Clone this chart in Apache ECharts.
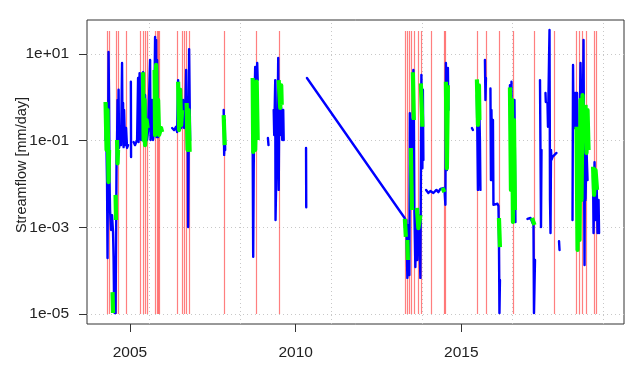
<!DOCTYPE html>
<html><head><meta charset="utf-8">
<script src="https://cdn.jsdelivr.net/npm/echarts@6/dist/echarts.min.js"></script>
<style>html,body{margin:0;padding:0;background:#fff}#c{width:637px;height:372px}</style>
</head><body><div id="c"></div>
<script>
// Streamflow series (decimal years), null = gap
const flowDates = [
2004.263,2004.278,2004.308,2004.323,2004.338,2004.353,2004.369,2004.384,2004.399,2004.429,2004.459,2004.489,2004.505,2004.520,2004.535,2004.550,2004.565,2004.580,2004.595,2004.610,2004.625,2004.640,2004.656,2004.671,2004.701,2004.731,2004.761,2004.776,2004.792,2004.807,2004.822,2004.852,2004.882,2004.912,2004.943,null,
2005.027,2005.033,null,
2005.109,2005.154,2005.215,2005.245,2005.260,2005.290,2005.314,2005.335,2005.366,2005.396,2005.426,2005.456,2005.486,2005.517,2005.547,2005.607,2005.622,2005.668,2005.698,2005.728,2005.758,2005.773,2005.789,2005.804,2005.819,2005.849,2005.864,2005.909,null,
2006.272,2006.332,2006.393,2006.423,2006.453,2006.468,2006.514,2006.544,2006.574,2006.604,2006.634,2006.665,2006.695,2006.725,2006.740,2006.755,2006.770,2006.785,2006.801,2006.816,null,
2007.828,2007.843,2007.858,2007.873,null,
2008.704,2008.719,2008.734,2008.749,2008.779,2008.810,2008.840,2008.855,null,
2009.163,2009.181,null,
2009.338,2009.353,2009.384,2009.393,2009.414,2009.444,2009.474,2009.489,2009.505,2009.535,2009.565,2009.595,2009.625,2009.640,null,
2010.314,2010.320,null,
2010.341,2013.290,2013.311,2013.341,2013.372,2013.402,2013.432,2013.447,2013.462,2013.492,2013.523,2013.553,2013.568,2013.583,2013.613,2013.644,2013.674,2013.704,2013.734,2013.764,2013.795,2013.825,2013.840,2013.855,null,
2013.937,2014.006,2014.066,2014.157,2014.248,2014.308,2014.369,2014.429,2014.489,2014.520,2014.535,2014.565,2014.595,2014.610,null,
2015.320,2015.350,null,
2015.471,2015.502,2015.532,2015.562,2015.577,null,
2015.713,2015.728,2015.743,null,
2015.879,2015.894,2015.909,2015.940,2015.955,2015.970,2016.030,2016.091,2016.121,2016.136,2016.151,2016.166,null,
2016.468,2016.483,2016.514,2016.544,2016.574,2016.604,2016.634,null,
2016.997,2017.088,2017.148,2017.178,2017.193,2017.224,null,
2017.375,2017.405,2017.420,null,
2017.541,2017.550,null,
2017.601,2017.616,2017.647,2017.662,2017.677,2017.692,2017.707,2017.722,2017.752,2017.813,2017.873,null,
2017.949,2017.964,null,
2018.356,2018.372,2018.387,2018.402,2018.417,2018.432,2018.447,2018.462,2018.477,2018.492,2018.508,2018.538,2018.568,2018.598,2018.613,2018.628,2018.659,2018.689,2018.719,2018.734,2018.749,2018.779,2018.810,null,
2018.976,2018.991,2019.021,2019.051,2019.082,2019.112,2019.142,2019.157
];
const flowValues = [
0.104,0.30,0.0111,0.000196,0.061,11.1,0.87,0.0111,0.0025,0.00087,0.0019,0.00078,0.000196,2.1e-5,1.05e-5,1.04e-4,1.05e-5,0.00051,0.036,0.104,0.87,0.079,1.5,0.068,0.135,0.079,6.2,0.104,0.74,0.071,0.51,0.079,0.196,0.068,0.079,null,
2.3,0.042,null,
0.093,0.079,0.104,2.8,0.093,3.6,0.176,0.104,0.135,3.8,0.088,1.13,0.23,0.104,0.176,7.3,0.104,0.87,0.104,0.176,24.7,0.30,21.0,0.121,7.3,0.121,0.23,0.176,null,
0.196,0.176,0.21,0.158,2.5,0.176,0.87,0.196,0.23,0.87,0.196,0.30,4.3,0.061,0.74,0.00102,0.061,13.0,0.87,0.104,null,
0.51,0.047,0.30,0.061,null,
0.055,0.00021,0.021,0.30,5.0,1.5,6.2,2.5,null,
0.115,0.079,null,
0.51,0.135,2.5,0.00148,0.0124,0.036,8.1,0.0073,0.51,0.135,0.57,0.104,0.51,0.104,null,
0.068,0.0029,null,
2.8,0.00164,0.00087,0.00148,6.8e-5,0.00113,7.9e-5,0.43,0.025,0.30,0.036,4.3,0.35,0.0029,0.000121,0.0025,0.000176,0.0019,0.00087,6.8e-5,3.3,0.023,1.5,0.036,null,
0.0073,0.0062,0.0069,0.0062,0.0073,0.0065,0.0077,0.0073,0.0081,0.0033,6.2,0.021,4.8,0.51,null,
0.196,0.176,null,
1.13,0.0073,1.5,0.104,0.0073,null,
7.3,0.87,2.8,null,
1.6,0.0124,0.51,0.0124,0.30,0.0033,0.0033,0.0035,0.0031,0.00051,1.05e-5,6.1e-5,null,
1.9,0.0073,2.3,0.00133,0.061,0.87,0.00133,null,
0.00156,0.00164,0.00156,0.00113,1.05e-5,0.000176,null,
2.5,0.00102,0.061,null,
1.26,0.78,null,
0.74,0.21,7.3,35.8,0.0043,0.00074,0.061,0.036,0.042,0.047,0.052,null,
0.00048,0.00030,null,
0.00148,5.6,0.196,1.26,0.196,1.26,0.196,1.26,0.196,1.26,0.0043,0.036,0.104,6.2,1.13,0.30,0.061,21.0,0.000135,0.30,0.0043,0.061,0.0124,null,
0.0162,0.00074,0.032,0.00148,0.0124,0.00074,0.0043,0.00074
];
// Highlighted (green) periods
const matchDates = [
2004.263,2004.293,2004.323,2004.353,2004.369,null,
2004.474,2004.489,null,
2004.565,2004.580,null,
2004.610,2004.625,2004.640,null,
2005.396,2005.411,2005.441,2005.456,2005.502,2005.532,null,
2005.743,2005.758,2005.789,2005.819,2005.849,2005.879,2005.940,2005.970,null,
2006.453,2006.483,2006.514,2006.544,2006.574,null,
2006.710,2006.740,2006.770,2006.801,null,
2007.828,2007.858,null,
2008.704,2008.719,2008.749,2008.779,2008.825,2008.855,null,
2009.489,2009.535,2009.565,2009.580,null,
2013.296,2013.326,null,
2013.372,2013.387,null,
2013.477,2013.508,null,
2013.538,2013.568,null,
2013.659,2013.704,2013.764,null,
2013.779,2013.825,null,
2014.429,2014.489,null,
2014.535,2014.565,2014.595,null,
2015.471,2015.502,2015.532,2015.547,null,
2016.136,2016.166,null,
2016.468,2016.498,2016.529,2016.559,2016.589,2016.619,null,
2017.133,2017.208,null,
2018.477,2018.508,2018.538,2018.568,2018.598,2018.628,2018.659,2018.689,null,
2018.749,2018.779,2018.810,2018.840,null,
2018.976,2019.006,2019.051,2019.097
];
const matchValues = [
0.78,0.061,0.51,0.0111,0.061,null,
3.2e-5,1.05e-5,null,
0.0056,0.00148,null,
0.104,0.030,0.061,null,
3.8,0.104,0.87,0.079,0.30,0.196,null,
4.3,0.135,5.6,0.176,0.87,0.135,0.196,0.158,null,
2.3,0.176,1.5,0.23,0.51,null,
0.74,0.061,0.51,0.055,null,
0.39,0.079,null,
2.8,0.055,1.9,0.061,2.3,0.104,null,
2.5,0.57,1.9,0.67,null,
0.00156,0.00060,null,
0.00051,0.000176,null,
0.068,0.0025,null,
3.8,0.30,null,
0.0028,0.00096,0.0019,null,
2.1,0.21,null,
0.0081,0.0065,null,
2.3,0.023,1.9,null,
2.6,0.23,1.9,0.30,null,
0.00164,0.00035,null,
1.7,0.0073,0.87,0.00133,0.30,0.0025,null,
0.00164,0.00113,null,
0.21,0.00030,0.176,0.00051,0.87,0.0043,1.13,0.104,null,
0.67,0.052,0.51,0.061,null,
0.025,0.0056,0.021,0.0073
];
// Event dates (red vertical segments)
const eventDates = [2004.308,2004.369,2004.580,2004.656,2004.873,2005.314,2005.390,2005.450,2005.511,2005.773,2005.810,2005.849,2005.888,2006.438,2006.589,2006.644,2006.710,2006.795,2007.858,2008.801,2009.514,2013.320,2013.372,2013.432,2013.492,2013.592,2013.695,2013.804,2014.088,2014.474,2014.520,2015.477,2015.749,2016.151,2016.559,2017.208,2017.804,2018.462,2018.559,2018.659,2018.779,2019.027,2019.082];
const eventRange = [1e-5, 34];

const xRange = [2003.703, 2019.91];
const yRange = [5.87e-6, 61];
const xTickValues = [2005, 2010, 2015];
const xTickLabels = ['2005', '2010', '2015'];
const xGridValues = [2005.592, 2008.330, 2011.068, 2013.806, 2016.543, 2019.281];
const yTickValues = [1e-5, 1e-3, 1e-1, 1e1];
const yTickLabels = ['1e-05', '1e-03', '1e-01', '1e+01'];

function pairs(d, v) {
  return d.map((x, i) => (v[i] === null || x === null) ? ['-', '-'] : [x, v[i]]);
}
function yLabel(v) {
  const i = yTickValues.findIndex(t => Math.abs(Math.log10(t) - Math.log10(v)) < 1e-6);
  return i >= 0 ? yTickLabels[i] : '';
}
function xLabel(v) {
  const i = xTickValues.findIndex(t => Math.abs(t - v) < 1e-6);
  return i >= 0 ? xTickLabels[i] : '';
}

const gridLines = yTickValues.map(v => ({coords: [[xRange[0], v], [xRange[1], v]]}))
  .concat(xGridValues.map(v => ({coords: [[v, yRange[0]], [v, yRange[1]]]})));

const font = 'Liberation Sans, Arial, sans-serif';
const chart = echarts.init(document.getElementById('c'), null, {renderer: 'canvas'});
chart.setOption({
  animation: false,
  backgroundColor: '#ffffff',
  grid: {left: 87, right: 13, top: 20, bottom: 48, show: true, borderColor: '#333', borderWidth: 1,
         backgroundColor: 'transparent', outerBoundsMode: 'none', containLabel: false},
  xAxis: {
    type: 'value', min: xRange[0], max: xRange[1],
    axisLine: {show: false},
    splitLine: {show: false},
    axisTick: {show: true, customValues: xTickValues, length: 8, lineStyle: {color: '#333'}},
    axisLabel: {customValues: xTickValues, formatter: xLabel, margin: 21, fontSize: 15.5, color: '#222', fontFamily: font}
  },
  yAxis: {
    type: 'log', min: yRange[0], max: yRange[1],
    name: 'Streamflow [mm/day]', nameLocation: 'middle', nameGap: 58, nameMoveOverlap: false,
    nameTextStyle: {fontSize: 14.5, color: '#222', fontFamily: font, padding: [0, 0, 0, 14]},
    axisLine: {show: false},
    splitLine: {show: false},
    axisTick: {show: true, customValues: yTickValues, length: 8, lineStyle: {color: '#333'}},
    axisLabel: {customValues: yTickValues, formatter: yLabel, margin: 18, fontSize: 15.5, color: '#222', fontFamily: font}
  },
  series: [
    {
      type: 'lines', coordinateSystem: 'cartesian2d', silent: true, z: 0,
      lineStyle: {color: '#c8c8c8', width: 1, type: [1, 3], opacity: 1},
      data: gridLines
    },
    {
      type: 'lines', coordinateSystem: 'cartesian2d', silent: true, z: 1,
      lineStyle: {color: '#ff0000', opacity: 0.5, width: 1.2},
      data: eventDates.map(d => ({coords: [[d, eventRange[0]], [d, eventRange[1]]]}))
    },
    {
      type: 'line', data: pairs(flowDates, flowValues), showSymbol: false, connectNulls: false, silent: true, z: 3,
      lineStyle: {color: '#0000ff', width: 2.4, cap: 'round', join: 'round'}
    },
    {
      type: 'line', data: pairs(matchDates, matchValues), showSymbol: false, connectNulls: false, silent: true, z: 4,
      lineStyle: {color: '#00ff00', width: 4.2, cap: 'butt', join: 'round'}
    }
  ]
});
</script>
</body></html>
